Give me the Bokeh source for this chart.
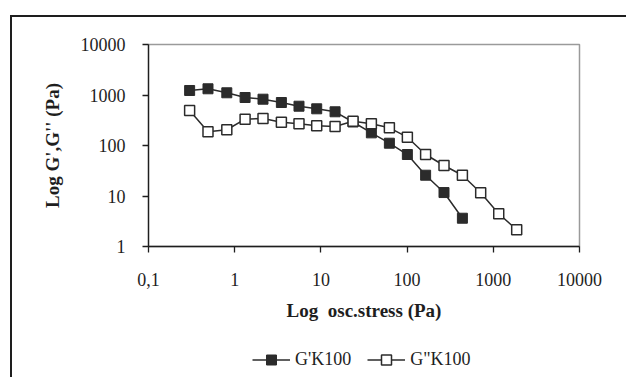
from bokeh.plotting import figure
from bokeh.layouts import column
from bokeh.models import FixedTicker, Legend, LegendItem, Range1d
from bokeh.embed import file_html
from bokeh.resources import INLINE

# ---- data ----
stress_gp = [0.30, 0.49, 0.81, 1.32, 2.13, 3.48, 5.57, 8.94, 14.6, 23.6,
             38.5, 62.3, 100.7, 164, 268, 438]
g_prime = [1228, 1327, 1106, 892, 826, 710, 600, 533, 465, 292,
           178, 111, 66.3, 25.8, 11.7, 3.63]

stress_gpp = [0.30, 0.49, 0.81, 1.32, 2.13, 3.48, 5.57, 8.94, 14.6, 23.6,
              38.5, 62.3, 100.7, 164, 268, 438, 714, 1156, 1868]
g_dprime = [493, 187, 205, 332, 343, 289, 269, 245, 238, 303,
            269, 224, 146, 66.3, 40.2, 25.8, 11.6, 4.44, 2.14]

x_tick_values = [0.1, 1, 10, 100, 1000, 10000]
x_tick_labels = ["0,1", "1", "10", "100", "1000", "10000"]
y_tick_values = [1, 10, 100, 1000, 10000]
y_tick_labels = ["1", "10", "100", "1000", "10000"]

series_names = ["G'K100", 'G"K100']
x_label = "Log\u00a0 osc.stress (Pa)"
y_label = "Log G',G'' (Pa)"

FONT = "Liberation Serif"
DARK = "#2b2b2b"
INK = "#1e1e1e"

# ---- main chart ----
p = figure(width=614, height=320, x_axis_type="log", y_axis_type="log",
           x_range=(0.1, 10000), y_range=(1, 10000),
           output_backend="svg", toolbar_location=None,
           min_border_left=136, min_border_right=47,
           min_border_top=27, min_border_bottom=91)
p.margin = 0
p.xgrid.visible = False
p.ygrid.visible = False
p.outline_line_color = "#9a9a9a"
p.outline_line_width = 1.5
p.background_fill_color = "white"
p.border_fill_color = "white"

for ax in (p.xaxis[0], p.yaxis[0]):
    ax.axis_line_color = INK
    ax.axis_line_width = 1.3
    ax.major_tick_line_color = INK
    ax.major_tick_line_width = 1.3
    ax.major_tick_out = 6
    ax.major_tick_in = 0
    ax.minor_tick_line_color = None
    ax.major_label_text_font = FONT
    ax.major_label_text_font_size = "18px"
    ax.major_label_text_color = INK
    ax.axis_label_text_font = FONT
    ax.axis_label_text_font_size = "19px"
    ax.axis_label_text_font_style = "bold"
    ax.axis_label_text_color = INK

p.xaxis.ticker = FixedTicker(ticks=x_tick_values)
p.yaxis.ticker = FixedTicker(ticks=y_tick_values)
p.xaxis.major_label_overrides = dict(zip(x_tick_values, x_tick_labels))
p.yaxis.major_label_overrides = dict(zip(y_tick_values, y_tick_labels))
p.xaxis.axis_label = x_label
p.yaxis.axis_label = y_label
p.xaxis.major_label_standoff = 20
p.yaxis.major_label_standoff = 17
p.xaxis.axis_label_standoff = 11
p.yaxis.axis_label_standoff = 15

p.line(stress_gp, g_prime, line_color=DARK, line_width=1.5)
p.scatter(stress_gp, g_prime, marker="square", size=10,
          fill_color=DARK, line_color=DARK, line_width=1)
p.line(stress_gpp, g_dprime, line_color=DARK, line_width=1.5)
p.scatter(stress_gpp, g_dprime, marker="square", size=10,
          fill_color="white", line_color=DARK, line_width=1.5)

# ---- legend strip below the chart (same series, kept out of its view) ----
q = figure(width=614, height=40, x_range=Range1d(-2, -1), y_range=Range1d(-2, -1),
           output_backend="svg", toolbar_location=None,
           x_axis_location=None, y_axis_location=None,
           min_border_left=0, min_border_right=0,
           min_border_top=0, min_border_bottom=0)
q.margin = 0
q.xgrid.visible = False
q.ygrid.visible = False
q.outline_line_color = None
q.border_fill_color = "white"
q.background_fill_color = "white"

l1 = q.line(stress_gp, g_prime, line_color=DARK, line_width=1.5)
s1 = q.scatter(stress_gp, g_prime, marker="square", size=10,
               fill_color=DARK, line_color=DARK, line_width=1)
l2 = q.line(stress_gpp, g_dprime, line_color=DARK, line_width=1.5)
s2 = q.scatter(stress_gpp, g_dprime, marker="square", size=10,
               fill_color="white", line_color=DARK, line_width=1.5)

legend = Legend(items=[LegendItem(label=series_names[0], renderers=[l1, s1]),
                       LegendItem(label=series_names[1], renderers=[l2, s2])],
                orientation="horizontal", location=(104, 5),
                glyph_width=38, glyph_height=25, label_standoff=5,
                spacing=16, padding=0, margin=0,
                border_line_color=None, background_fill_alpha=0,
                label_text_font=FONT, label_text_font_size="18px",
                label_text_color=INK)
q.add_layout(legend, "center")

layout = column(p, q, spacing=0)
layout.margin = (17, 0, 0, 12)
layout.styles = {"box-shadow": "-1px -1px 0 1px #1e1e1e"}

open("out.html", "w").write(file_html(layout, INLINE))
